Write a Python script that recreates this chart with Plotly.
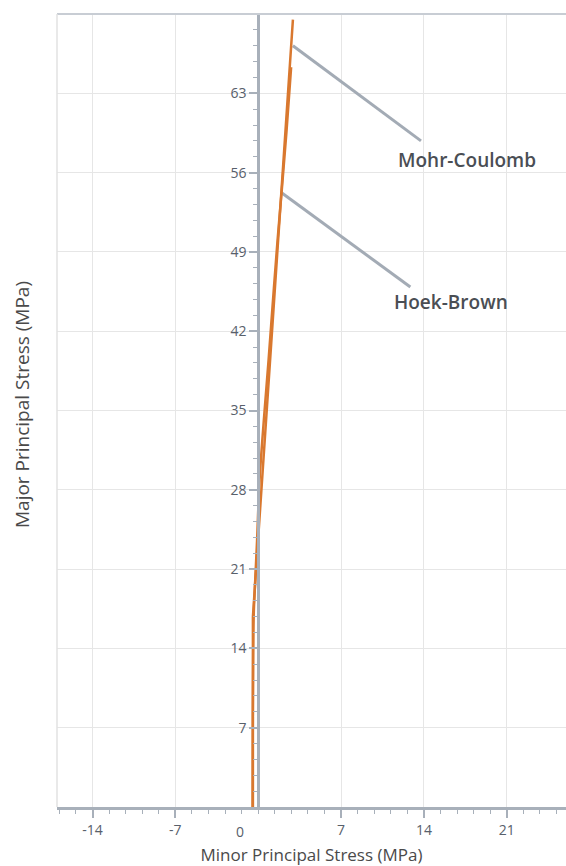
import plotly.graph_objects as go

# Failure envelopes: minor principal stress (sigma3) vs major principal stress (sigma1), MPa
mc_sigma3 = [-0.45, -0.45, 2.93]
mc_sigma1 = [0.0, 16.8, 69.5]

hb_sigma3 = [-0.48, -0.46, -0.42, -0.38, -0.30, -0.10, 0.11, 0.50, 0.87, 1.25, 1.63, 2.00, 2.40, 2.78]
hb_sigma1 = [0.0, 8.0, 14.0, 17.0, 19.0, 23.5, 28.8, 34.5, 39.4, 44.8, 50.0, 54.6, 59.8, 65.3]

# Leader lines and label anchors (sigma3, sigma1)
mc_leader_s3 = [2.93, 13.75]
mc_leader_s1 = [67.2, 58.8]
mc_label = ("Mohr-Coulomb", 17.6, 57.1)

hb_leader_s3 = [2.00, 12.85]
hb_leader_s1 = [54.2, 45.9]
hb_label = ("Hoek-Brown", 16.3, 44.6)

x_ticks = [-14, -7, 7, 14, 21]
x_ticktext = ["-14", "-7", "7", "14", "21"]
y_ticks = [7, 14, 21, 28, 35, 42, 49, 56, 63]
x_range = [-17, 26]
y_range = [0, 70]

ORANGE = "#D9782F"
AXIS = "#A8B0BA"
GRID = "#E6E6E6"
LEADER = "#A3ABB5"
TICKFONT = dict(family="Open Sans, Noto Sans, sans-serif", size=14, color="#58606B")
XTITLEFONT = dict(family="Open Sans, Noto Sans, sans-serif", size=17, color="#4A4A4A")
YTITLEFONT = dict(family="Open Sans, Noto Sans, sans-serif", size=19, color="#4A4A4A")
LABELFONT = dict(family="Open Sans, Noto Sans, sans-serif", size=19, color="#4A4E54", weight=600)

fig = go.Figure()

fig.add_trace(go.Scatter(x=mc_leader_s3, y=mc_leader_s1, mode="lines",
                         line=dict(color=LEADER, width=3), hoverinfo="skip"))
fig.add_trace(go.Scatter(x=hb_leader_s3, y=hb_leader_s1, mode="lines",
                         line=dict(color=LEADER, width=3), hoverinfo="skip"))

fig.add_trace(go.Scatter(x=mc_sigma3, y=mc_sigma1, mode="lines", name="Mohr-Coulomb",
                         line=dict(color=ORANGE, width=2.5)))
fig.add_trace(go.Scatter(x=hb_sigma3, y=hb_sigma1, mode="lines", name="Hoek-Brown",
                         line=dict(color=ORANGE, width=2.5, shape="spline")))

for text, sx, sy in (mc_label, hb_label):
    fig.add_annotation(x=sx, y=sy, xref="x", yref="y", text=text, showarrow=False,
                       font=LABELFONT, xanchor="center", yanchor="middle")

# zero label on the x axis sits just left of the vertical axis line
fig.add_annotation(x=0, y=0, xref="x", yref="y", text="0", showarrow=False,
                   font=TICKFONT, xanchor="center", yanchor="middle",
                   xshift=-18, yshift=-24)

# vertical axis title placed at the far left of the figure
fig.add_annotation(x=-35 / 509, y=(807 - 405) / 793, xref="paper", yref="paper",
                   text="Major Principal Stress (MPa)", textangle=-90, showarrow=False,
                   font=YTITLEFONT, xanchor="center", yanchor="middle")

# frame lines along the top and left of the plot area
fig.add_shape(type="line", xref="paper", yref="paper", x0=0, x1=1, y0=1, y1=1,
              line=dict(color="#C8CDD4", width=2))
fig.add_shape(type="line", xref="paper", yref="paper", x0=0, x1=0, y0=0, y1=1,
              line=dict(color="#E2E2E2", width=1.5))

minor = dict(dtick=1.4, tick0=0, ticks="outside", ticklen=4, tickwidth=1,
             tickcolor=AXIS, showgrid=False)

fig.update_xaxes(range=x_range, tickmode="array", tickvals=x_ticks, ticktext=x_ticktext,
                 ticks="outside", ticklen=8, tickwidth=1.5, tickcolor=AXIS,
                 showline=True, linecolor=AXIS, linewidth=3,
                 showgrid=True, gridcolor=GRID, gridwidth=1, zeroline=False,
                 minor=minor, tickfont=TICKFONT,
                 title=dict(text="Minor Principal Stress (MPa)", font=XTITLEFONT, standoff=12))

fig.update_yaxes(range=y_range, tickmode="array", tickvals=y_ticks,
                 anchor="free", position=(0 - x_range[0]) / (x_range[1] - x_range[0]),
                 ticks="outside", ticklen=8, tickwidth=1.5, tickcolor=AXIS,
                 showline=True, linecolor=AXIS, linewidth=3,
                 showgrid=True, gridcolor=GRID, gridwidth=1, zeroline=False,
                 minor=minor, tickfont=TICKFONT)

fig.update_layout(width=566, height=866, margin=dict(l=57, r=0, t=14, b=59),
                  plot_bgcolor="white", paper_bgcolor="white", showlegend=False)

fig.write_html("out.html")
